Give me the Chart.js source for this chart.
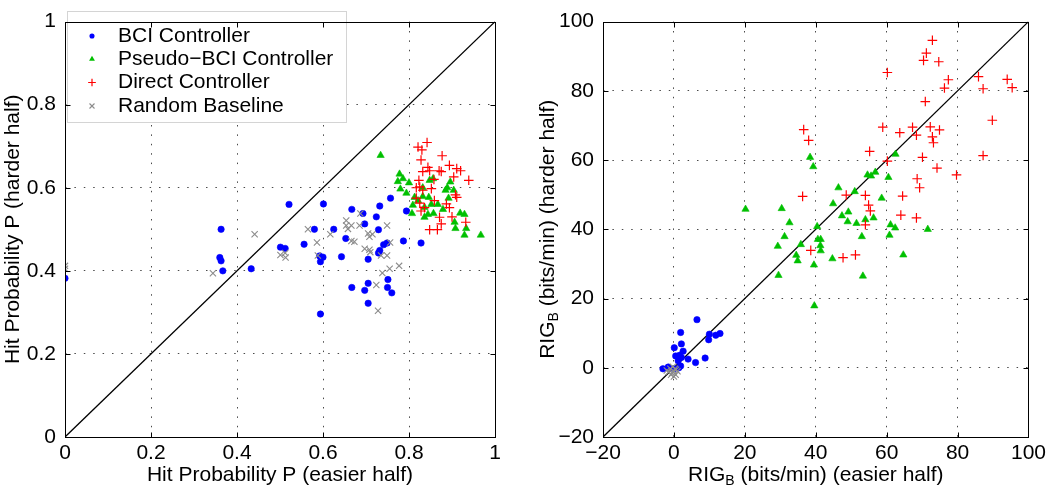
<!DOCTYPE html>
<html><head><meta charset="utf-8">
<script src="https://cdn.jsdelivr.net/npm/chart.js@4/dist/chart.umd.min.js"></script>
<style>
html,body{margin:0;padding:0;background:#fff;}
#wrap{position:relative;width:1050px;height:496px;overflow:hidden;}
#c1{position:absolute;left:0;top:0;}
#c2{position:absolute;left:520px;top:0;}
</style></head><body>
<div id="wrap"><canvas id="c1" width="520" height="496"></canvas><canvas id="c2" width="530" height="496"></canvas></div>
<script>
// ---------- data: left panel (hit probability) ----------
const pTicks = [0, 0.2, 0.4, 0.6, 0.8, 1];
const pTickLabels = ['0', '0.2', '0.4', '0.6', '0.8', '1'];
const pDiag = [0, 1];

const bciP_easy = [0.000,0.363,0.360,0.363,0.367,0.433,0.521,0.501,0.512,0.601,0.667,0.732,0.757,0.693,0.724,0.794,0.697,0.580,0.625,0.729,0.556,0.653,0.787,0.828,0.741,0.749,0.732,0.729,0.592,0.600,0.594,0.643,0.705,0.705,0.667,0.697,0.751,0.750,0.760,0.705,0.594];
const bciP_hard = [0.382,0.500,0.432,0.424,0.400,0.405,0.560,0.457,0.454,0.561,0.548,0.556,0.575,0.538,0.530,0.544,0.513,0.500,0.500,0.499,0.464,0.478,0.472,0.467,0.463,0.467,0.449,0.443,0.436,0.433,0.422,0.434,0.428,0.370,0.360,0.353,0.379,0.360,0.347,0.322,0.296];

const pseudoP_easy = [0.734,0.778,0.786,0.774,0.800,0.780,0.794,0.848,0.856,0.832,0.896,0.889,0.885,0.904,0.892,0.813,0.832,0.846,0.821,0.809,0.852,0.867,0.879,0.836,0.807,0.844,0.857,0.836,0.919,0.929,0.906,0.908,0.933,0.929,0.967];
const pseudoP_hard = [0.678,0.633,0.622,0.615,0.612,0.597,0.587,0.618,0.622,0.600,0.614,0.600,0.594,0.594,0.575,0.577,0.579,0.577,0.569,0.558,0.560,0.560,0.548,0.553,0.538,0.536,0.538,0.529,0.539,0.536,0.517,0.502,0.502,0.486,0.486];

const directP_easy = [0.842,0.821,0.830,0.877,0.828,0.894,0.911,0.920,0.844,0.832,0.848,0.870,0.875,0.904,0.939,0.858,0.823,0.825,0.817,0.852,0.832,0.908,0.911,0.817,0.859,0.825,0.887,0.894,0.836,0.828,0.900,0.871,0.875,0.932,0.848,0.866];
const directP_hard = [0.709,0.698,0.691,0.677,0.667,0.654,0.646,0.641,0.649,0.639,0.641,0.641,0.639,0.626,0.618,0.620,0.618,0.602,0.600,0.598,0.594,0.583,0.577,0.575,0.569,0.563,0.561,0.552,0.552,0.544,0.530,0.529,0.513,0.517,0.499,0.499];

const randomP_easy = [0.000,0.000,0.344,0.441,0.501,0.512,0.513,0.687,0.654,0.654,0.666,0.658,0.685,0.565,0.617,0.705,0.715,0.708,0.749,0.666,0.673,0.586,0.697,0.708,0.710,0.735,0.749,0.588,0.755,0.777,0.738,0.724,0.728,0.756];
const randomP_hard = [0.405,0.412,0.394,0.488,0.438,0.443,0.432,0.538,0.521,0.509,0.509,0.501,0.509,0.500,0.488,0.490,0.488,0.482,0.509,0.472,0.470,0.468,0.453,0.451,0.445,0.437,0.437,0.437,0.405,0.412,0.395,0.366,0.304,0.468];

// ---------- data: right panel (RIG_B, bits/min) ----------
const rTicks = [-20, 0, 20, 40, 60, 80, 100];
const rTickLabels = ['\u221220', '0', '20', '40', '60', '80', '100'];
const rDiag = [-20, 100];

const bciR_easy = [6.5,1.9,10.0,13.0,11.8,9.8,2.1,0.1,2.6,0.5,1.6,2.1,4.0,8.8,6.1,1.2,1.9,1.4,-1.6,-3.1,0.0];
const bciR_hard = [13.9,10.2,9.7,9.9,9.4,8.1,6.9,5.8,4.8,3.4,3.6,3.0,2.5,2.8,1.5,2.0,0.5,0.0,0.2,-0.3,-0.3];

const pseudoR_easy = [20.2,30.4,32.6,31.2,29.3,29.5,35.8,34.5,34.9,39.5,39.6,40.4,40.6,41.4,41.3,41.4,44.7,46.4,44.9,47.4,49.2,49.0,51.5,54.0,56.3,53.0,61.1,62.4,71.6,60.8,53.3,64.7,38.4,39.3,62.5,54.6,55.6,56.8,60.5,51.0,58.6];
const pseudoR_hard = [45.8,46.0,41.9,37.9,35.1,26.7,35.6,32.5,30.9,29.7,17.9,40.8,37.1,37.1,35.3,33.8,31.5,52.0,47.4,43.9,45.0,42.2,41.7,42.8,43.3,37.9,41.3,40.4,40.0,38.3,26.5,32.6,60.8,58.1,61.7,55.7,55.4,56.5,55.0,50.9,49.0];

const directR_easy = [72.9,71.2,70.4,74.7,60.2,77.4,76.3,85.9,87.2,94.0,95.4,70.9,89.8,36.6,38.0,58.9,63.7,67.3,68.4,72.3,74.9,72.9,73.2,55.2,70.1,87.2,60.2,74.2,79.7,68.6,69.3,36.3,48.6,54.0,64.5,54.9,55.4,64.0,68.4,54.0,38.6,47.7,51.2];
const directR_hard = [94.6,90.9,88.8,88.4,85.3,83.2,80.8,84.1,80.6,83.3,80.9,76.9,71.5,68.8,65.7,69.5,67.9,69.5,67.2,69.6,68.7,66.7,65.0,62.5,60.8,61.3,59.7,57.7,55.7,54.6,52.0,49.5,49.9,49.8,49.6,47.0,45.3,44.1,43.3,41.3,33.9,31.8,32.6];

const randomR_easy = [-2.0,-1.0,-0.5,0.0,0.5,0.0,-1.5,0.3,1.0,-0.3,0.6,-0.8];
const randomR_hard = [-0.8,-0.3,-1.5,-1.0,-2.0,-2.5,-1.2,-0.3,-1.0,0.3,-0.6,-2.0];

const seriesNames = ['BCI Controller', 'Pseudo\u2212BCI Controller', 'Direct Controller', 'Random Baseline'];

// ---------- styles ----------
const FONT = "'Liberation Sans', Arial, Helvetica, sans-serif";
const STY = [
  {color:'#0000ff', pointStyle:'circle',   radius:3.2, bw:0.6, fill:true},
  {color:'#00c000', pointStyle:'triangle', radius:4.2, bw:0.6, fill:true},
  {color:'#ff0000', pointStyle:'cross',    radius:4.8, bw:1.2, fill:false},
  {color:'#8c8c8c', pointStyle:'crossRot', radius:4.4, bw:1.1, fill:false}
];

const zip = (xs, ys) => xs.map((x, i) => ({x: x, y: ys[i]}));

function makeDatasets(sets, diag) {
  const ds = sets.map((s, i) => ({
    label: seriesNames[i],
    data: zip(s[0], s[1]),
    pointStyle: STY[i].pointStyle,
    pointRadius: STY[i].radius,
    pointBorderWidth: STY[i].bw,
    pointBorderColor: STY[i].color,
    pointBackgroundColor: STY[i].fill ? STY[i].color : 'rgba(0,0,0,0)',
    showLine: false,
    order: 3 - i
  }));
  ds.push({
    label: 'diag', data: zip(diag, diag), showLine: true, pointRadius: 0,
    borderColor: '#000', borderWidth: 1.3, order: 10
  });
  return ds;
}

function axis(min, max, ticks, labels, isX, fitSize, pad) {
  const last = ticks.length - 1;
  return {
    type: 'linear', min: min, max: max,
    afterBuildTicks: s => { s.ticks = ticks.map(v => ({value: v})); },
    afterFit: s => { if (isX) s.height = fitSize; else s.width = fitSize; },
    ticks: {
      callback: (v, i) => labels[i],
      font: {family: FONT, size: 21}, color: '#000',
      padding: pad, autoSkip: false, maxRotation: 0, minRotation: 0
    },
    grid: {
      drawTicks: false, lineWidth: 1,
      color: c => (c.index === 0 || c.index === last) ? 'rgba(0,0,0,0)' : '#4a4a4a'
    },
    border: {display: false, dash: [1.5, 7.9]}
  };
}

function framePlugin() {
  return {
    id: 'frame',
    afterDraw(chart) {
      const {ctx, chartArea: a, scales: {x, y}} = chart;
      const L = Math.round(a.left) + 0.5, R = Math.round(a.right) + 0.5;
      const T = Math.round(a.top) + 0.5, B = Math.round(a.bottom) + 0.5;
      ctx.save();
      ctx.strokeStyle = '#000'; ctx.lineWidth = 1;
      ctx.strokeRect(L, T, R - L, B - T);
      const len = 5;
      ctx.beginPath();
      x.ticks.forEach(t => {
        const p = Math.round(x.getPixelForValue(t.value)) + 0.5;
        ctx.moveTo(p, B); ctx.lineTo(p, B - len);
        ctx.moveTo(p, T); ctx.lineTo(p, T + len);
      });
      y.ticks.forEach(t => {
        const p = Math.round(y.getPixelForValue(t.value)) + 0.5;
        ctx.moveTo(L, p); ctx.lineTo(L + len, p);
        ctx.moveTo(R, p); ctx.lineTo(R - len, p);
      });
      ctx.stroke();
      ctx.restore();
    }
  };
}

function drawParts(ctx, parts, cx, cy) {
  const MAIN = '21px ' + FONT, SUB = '14px ' + FONT;
  let total = 0;
  parts.forEach(p => { ctx.font = p.sub ? SUB : MAIN; p.w = ctx.measureText(p.t).width; total += p.w; });
  let x = cx - total / 2;
  parts.forEach(p => {
    ctx.font = p.sub ? SUB : MAIN;
    ctx.fillText(p.t, x, cy + (p.sub ? 6 : 0));
    x += p.w;
  });
}

function titlePlugin(xParts, yParts, yTitleX, xTitleY) {
  return {
    id: 'titles',
    afterDraw(chart) {
      const {ctx, chartArea: a} = chart;
      ctx.save();
      ctx.fillStyle = '#000'; ctx.textBaseline = 'middle'; ctx.textAlign = 'left';
      drawParts(ctx, xParts, (a.left + a.right) / 2, xTitleY);
      ctx.translate(yTitleX, (a.top + a.bottom) / 2);
      ctx.rotate(-Math.PI / 2);
      drawParts(ctx, yParts, 0, 0);
      ctx.restore();
    }
  };
}

function marker(ctx, i, x, y, scale) {
  const s = STY[i];
  const r = s.radius * scale;
  ctx.strokeStyle = s.color; ctx.fillStyle = s.color; ctx.lineWidth = s.bw;
  ctx.beginPath();
  if (s.pointStyle === 'circle') { ctx.arc(x, y, r, 0, Math.PI * 2); ctx.fill(); }
  else if (s.pointStyle === 'triangle') {
    ctx.moveTo(x, y - r); ctx.lineTo(x + r * 0.866, y + r * 0.5); ctx.lineTo(x - r * 0.866, y + r * 0.5);
    ctx.closePath(); ctx.fill();
  } else if (s.pointStyle === 'cross') {
    ctx.moveTo(x - r, y); ctx.lineTo(x + r, y); ctx.moveTo(x, y - r); ctx.lineTo(x, y + r); ctx.stroke();
  } else {
    const d = r * 0.7071;
    ctx.moveTo(x - d, y - d); ctx.lineTo(x + d, y + d); ctx.moveTo(x + d, y - d); ctx.lineTo(x - d, y + d); ctx.stroke();
  }
}

const legendPlugin = {
  id: 'lgd',
  afterDatasetsDraw(chart) {
    const ctx = chart.ctx;
    ctx.save();
    ctx.fillStyle = '#fff';
    ctx.fillRect(67, 11, 279, 111);
    ctx.strokeStyle = '#d4d4d4'; ctx.lineWidth = 1;
    ctx.strokeRect(67.5, 11.5, 279, 111);
    const rows = [36, 59, 82.5, 106];
    seriesNames.forEach((n, i) => {
      marker(ctx, i, 92, rows[i], 0.8);
      ctx.fillStyle = '#000'; ctx.font = '21px ' + FONT;
      ctx.textBaseline = 'middle'; ctx.textAlign = 'left';
      ctx.fillText(n, 118, rows[i]);
    });
    ctx.restore();
  }
};

function makeChart(id, sets, diag, ticks, labels, min, max, yAxisW, rightPad, plugins) {
  return new Chart(document.getElementById(id), {
    type: 'scatter',
    data: {datasets: makeDatasets(sets, diag)},
    options: {
      responsive: false, animation: false, devicePixelRatio: 1,
      layout: {padding: {top: 7, right: rightPad, left: 0, bottom: 0}},
      plugins: {legend: {display: false}, tooltip: {enabled: false}},
      scales: {
        x: axis(min, max, ticks, labels, true, 59, 4),
        y: axis(min, max, ticks, labels, false, yAxisW, 9)
      }
    },
    plugins: plugins
  });
}

makeChart('c1',
  [[bciP_easy, bciP_hard], [pseudoP_easy, pseudoP_hard], [directP_easy, directP_hard], [randomP_easy, randomP_hard]],
  pDiag, pTicks, pTickLabels, 0, 1, 65, 25,
  [legendPlugin, framePlugin(),
   titlePlugin([{t: 'Hit Probability P (easier half)'}], [{t: 'Hit Probability P (harder half)'}], 13, 475)]);

makeChart('c2',
  [[bciR_easy, bciR_hard], [pseudoR_easy, pseudoR_hard], [directR_easy, directR_hard], [randomR_easy, randomR_hard]],
  rDiag, rTicks, rTickLabels, -20, 100, 83, 17,
  [framePlugin(),
   titlePlugin([{t: 'RIG'}, {t: 'B', sub: true}, {t: ' (bits/min) (easier half)'}],
               [{t: 'RIG'}, {t: 'B', sub: true}, {t: ' (bits/min) (harder half)'}], 28, 475)]);
</script>
</body></html>
